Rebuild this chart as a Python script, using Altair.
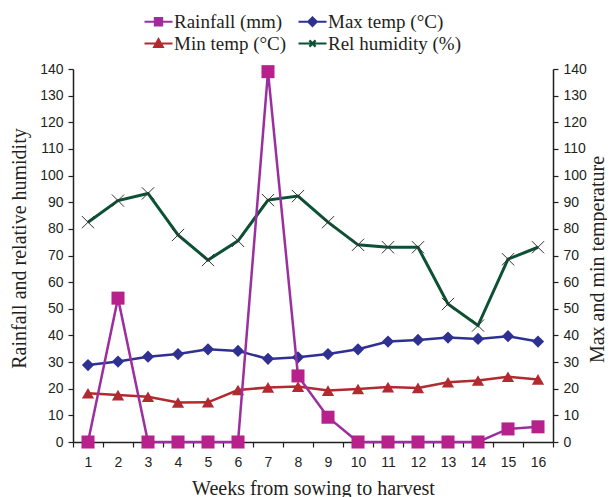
import altair as alt
import pandas as pd

weeks = list(range(1, 17))
rainfall = [0, 54, 0, 0, 0, 0, 139, 24.8, 9.3, 0, 0, 0, 0, 0, 4.9, 5.7]
max_temp = [28.9, 30.2, 32.0, 33.0, 34.8, 34.2, 31.2, 31.8, 33.0, 34.8, 37.7, 38.3, 39.2, 38.7, 39.7, 37.7]
min_temp = [18.3, 17.6, 17.0, 14.8, 14.9, 19.5, 20.5, 20.8, 19.3, 19.9, 20.6, 20.3, 22.4, 23.1, 24.5, 23.5]
rel_humidity = [82.5, 90.6, 93.3, 77.7, 68.3, 75.5, 90.8, 92.3, 82.5, 74.0, 73.1, 73.1, 51.8, 43.7, 68.6, 73.1]

series_names = ["Rainfall (mm)", "Max temp (°C)", "Min temp (°C)", "Rel humidity  (%)"]
line_colors = ["#9B2FA0", "#2E3192", "#B02A30", "#0B5134"]
marker_fills = ["#B8218C", "#2E3192", "#B02A30", "transparent"]
line_widths = [2.5, 2.5, 2.5, 3]
sides = ["left", "right", "right", "left"]
values_by_series = [rainfall, max_temp, min_temp, rel_humidity]

# legend reading order (two columns, filled column by column)
legend_order = ["Rainfall (mm)", "Min temp (°C)", "Max temp (°C)", "Rel humidity  (%)"]

rows = []
for name, side, vals in zip(series_names, sides, values_by_series):
    for w, v in zip(weeks, vals):
        rows.append({"week": w, "series": name, "side": side, "value": v})
df = pd.DataFrame(rows)

INK = "#231F20"
SERIF = "Liberation Serif"
SANS = "Liberation Sans"

# legend symbols: a line segment with the series marker in its middle
legend_paths = {
    "Rainfall (mm)": "M-1.4,0L1.4,0M-0.36,-0.36L0.36,-0.36L0.36,0.36L-0.36,0.36Z",
    "Max temp (°C)": "M-1.4,0L1.4,0M0,-0.42L0.42,0L0,0.42L-0.42,0Z",
    "Min temp (°C)": "M-1.4,0L1.4,0M-0.42,0.34L0,-0.42L0.42,0.34Z",
    "Rel humidity  (%)": "M-1.4,0L1.4,0M-0.31,-0.31L0.31,0.31M0.31,-0.31L-0.31,0.31",
}
lfill = dict(zip(series_names, marker_fills))
lstroke = dict(zip(series_names, line_colors))

legend = alt.Legend(
    title=None, orient="none", legendX=74, legendY=-59, columns=2,
    labelFont=SERIF, labelFontSize=19, labelColor=INK, labelOffset=4,
    symbolSize=400, symbolStrokeWidth=2.2, symbolOpacity=1,
    columnPadding=7, rowPadding=0,
)

x_enc = alt.X(
    "week:O",
    scale=alt.Scale(type="band", paddingInner=0, paddingOuter=0),
    axis=alt.Axis(
        title="Weeks from sowing to harvest", titleFont=SERIF, titleFontSize=20,
        titleFontWeight="normal", titleColor=INK, titleX=240, titleY=46,
        titleBaseline="middle", labelAngle=0, tickBand="extent",
        labelFont=SANS, labelFontSize=14, labelColor=INK, labelPadding=8,
        tickColor=INK, tickSize=5, tickWidth=1.2, domainColor=INK, domainWidth=1.5,
        grid=False,
    ),
)


def y_axis(orient, title, tx, ty):
    return alt.Axis(
        orient=orient, values=list(range(0, 141, 10)), title=title,
        titleFont=SERIF, titleFontSize=20, titleFontWeight="normal", titleColor=INK,
        titleAngle=270, titleX=tx, titleY=ty, titleAlign="center", titleBaseline="middle",
        labelFont=SANS, labelFontSize=14, labelColor=INK, labelPadding=5,
        tickColor=INK, tickSize=5, tickWidth=1.2, domainColor=INK, domainWidth=1.5,
        grid=False,
    )


left_axis = y_axis("left", "Rainfall and relative humidity", -54, 179)
right_axis = y_axis("right", "Max and min temperature", 44, 190)
yscale = alt.Scale(domain=[0, 140], nice=False, zero=True)

base = alt.Chart(df)


def group(side, axis, names, point_specs, with_legend=False):
    data = base.transform_filter(alt.datum.side == side)
    y_enc = alt.Y("value:Q", scale=yscale, axis=axis)
    layers = []
    for name in names:
        i = series_names.index(name)
        ln = data.transform_filter(alt.datum.series == name).mark_line(
            color=line_colors[i], strokeWidth=line_widths[i]
        ).encode(x=x_enc, y=y_enc)
        layers.append(ln)
    for name, kw in point_specs:
        pts = data.transform_filter(alt.datum.series == name).mark_point(opacity=1, **kw).encode(x=x_enc, y=y_enc)
        layers.append(pts)
    if with_legend:
        # empty layer whose only role is to carry the legend
        leg = base.transform_filter("false").mark_point(filled=True, opacity=1).encode(
            x=x_enc, y=y_enc,
            shape=alt.Shape("series:N", scale=alt.Scale(domain=legend_order, range=[legend_paths[n] for n in legend_order]), legend=legend),
            fill=alt.Fill("series:N", scale=alt.Scale(domain=legend_order, range=[lfill[n] for n in legend_order]), legend=legend),
            stroke=alt.Stroke("series:N", scale=alt.Scale(domain=legend_order, range=[lstroke[n] for n in legend_order]), legend=legend),
        )
        layers.append(leg)
    return alt.layer(*layers)


right_group = group("right", right_axis, ["Max temp (°C)", "Min temp (°C)"], [
    ("Max temp (°C)", dict(shape="diamond", filled=True, size=150, color="#2E3192")),
    ("Min temp (°C)", dict(shape="triangle-up", filled=True, size=150, color="#B02A30")),
])
left_group = group("left", left_axis, ["Rel humidity  (%)", "Rainfall (mm)"], [
    ("Rel humidity  (%)", dict(shape="M-1,-1L1,1M1,-1L-1,1", filled=False, size=150, stroke="#333333", strokeWidth=1)),
    ("Rainfall (mm)", dict(shape="square", filled=True, size=170, color="#B8218C")),
], with_legend=True)

chart = alt.layer(right_group, left_group).resolve_scale(y="independent").properties(
    width=480, height=373,
    autosize=alt.AutoSizeParams(type="none"),
    padding={"left": 65, "top": 61, "right": 54, "bottom": 60},
).configure_view(stroke=None)

chart.save("out.html", embed_options={"renderer": "svg", "actions": False})
